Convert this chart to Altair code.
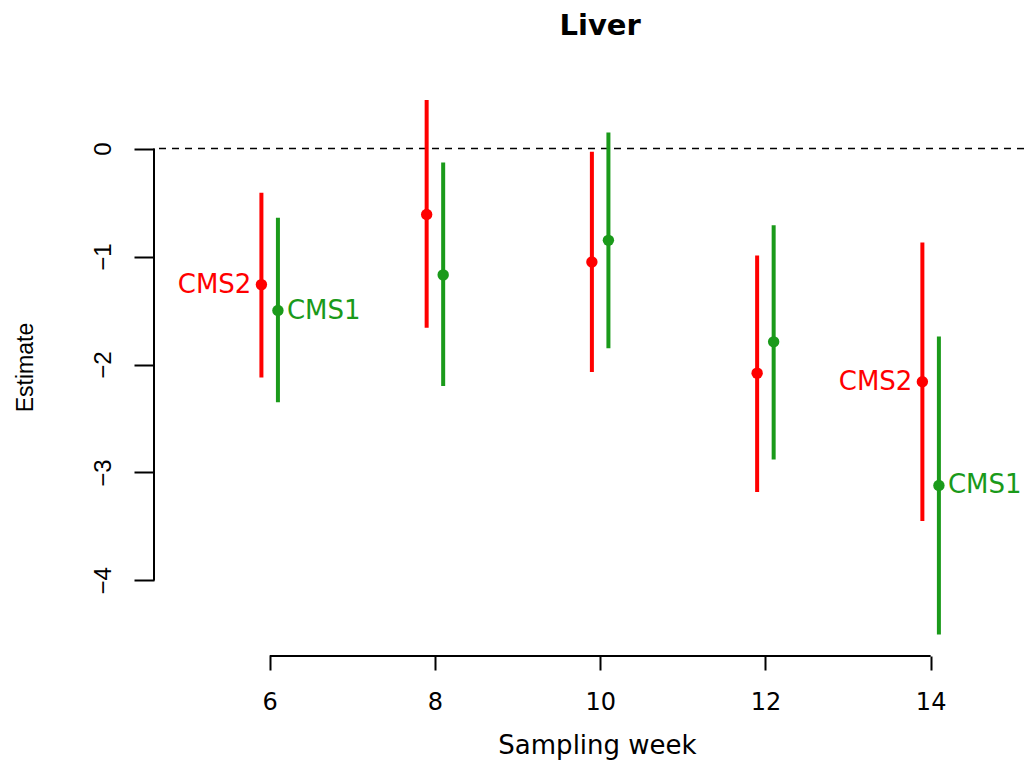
import altair as alt
import pandas as pd

# ---- data ----
weeks = [6, 8, 10, 12, 14]
groups = ["CMS2", "CMS1"]
cms2_est = [-1.26, -0.61, -1.05, -2.08, -2.16]
cms2_lo = [-2.12, -1.66, -2.07, -3.18, -3.45]
cms2_hi = [-0.41, 0.45, -0.03, -0.99, -0.87]
cms1_est = [-1.50, -1.17, -0.85, -1.79, -3.12]
cms1_lo = [-2.35, -2.20, -1.85, -2.88, -4.50]
cms1_hi = [-0.64, -0.13, 0.15, -0.71, -1.74]
label_weeks = [6, 14]
x_ticks = [6, 8, 10, 12, 14]
y_ticks = [-4, -3, -2, -1, 0]
dodge = {"CMS2": -0.1, "CMS1": 0.1}
colors = ["#FF0000", "#1A9A1A"]
title_text = "Liver"
x_center = 10  # centre of the R plot region (xlim 5..15)

rows = []
for i, w in enumerate(weeks):
    rows.append(dict(group="CMS2", week=w, x=w + dodge["CMS2"], est=cms2_est[i], lo=cms2_lo[i], hi=cms2_hi[i]))
    rows.append(dict(group="CMS1", week=w, x=w + dodge["CMS1"], est=cms1_est[i], lo=cms1_lo[i], hi=cms1_hi[i]))
df = pd.DataFrame(rows)
lab = df[df["week"].isin(label_weeks)]

xs = alt.Scale(domain=[4.6, 15.13], nice=False, zero=False)
ys = alt.Scale(domain=[-4.7, 0.7], nice=False, zero=False)
cs = alt.Scale(domain=groups, range=colors)

xaxis = alt.Axis(
    values=x_ticks, domain=False, grid=False, tickSize=14, tickWidth=2, tickColor="black",
    labelFont="DejaVu Sans", labelFontSize=24, labelColor="black", labelPadding=20,
    title="Sampling week", titleFont="DejaVu Sans", titleFontSize=26, titleFontWeight="normal",
    titleColor="black", titleBaseline="alphabetic", titleY=97, titleX=443, titleAnchor="middle",
)
yaxis = alt.Axis(
    values=y_ticks, domain=False, grid=False, tickSize=20, tickWidth=2, tickColor="black",
    labelFont="Liberation Sans", labelFontSize=24, labelColor="black", labelPadding=24,
    labelAngle=270, labelAlign="center", labelBaseline="alphabetic",
    title="Estimate", titleFont="Liberation Sans", titleFontSize=23, titleFontWeight="normal",
    titleColor="black", titleAngle=270, titleBaseline="alphabetic", titleAlign="center",
    titleX=-122, titleY=294,
)

def X(f):
    return alt.X(f, type="quantitative", scale=xs, axis=xaxis)

def Y(f):
    return alt.Y(f, type="quantitative", scale=ys, axis=yaxis)

col = alt.Color("group:N", scale=cs, legend=None)

zero_df = pd.DataFrame({"y": [0]})
zero = alt.Chart(zero_df).mark_rule(color="black", strokeWidth=1.5, strokeDash=[7, 6]).encode(y=Y("y"))

xline_df = pd.DataFrame({"x": [x_ticks[0]], "x2": [x_ticks[-1]], "y": [-4.7]})
xline = alt.Chart(xline_df).mark_rule(color="black", strokeWidth=2).encode(x=X("x"), x2="x2", y=Y("y"))

yline_df = pd.DataFrame({"x": [4.6], "y": [y_ticks[0]], "y2": [y_ticks[-1]]})
yline = alt.Chart(yline_df).mark_rule(color="black", strokeWidth=2).encode(x=X("x"), y=Y("y"), y2="y2")

bars = alt.Chart(df).mark_rule(strokeWidth=4).encode(x=X("x"), y=Y("lo"), y2="hi", color=col)
points = alt.Chart(df).mark_circle(size=130, opacity=1).encode(x=X("x"), y=Y("est"), color=col)

lab2 = alt.Chart(lab[lab["group"] == "CMS2"]).mark_text(
    align="right", baseline="middle", dx=-10, font="DejaVu Sans", fontSize=26
).encode(x=X("x"), y=Y("est"), text="group:N", color=col)
lab1 = alt.Chart(lab[lab["group"] == "CMS1"]).mark_text(
    align="left", baseline="middle", dx=9, font="DejaVu Sans", fontSize=26
).encode(x=X("x"), y=Y("est"), text="group:N", color=col)

title_df = pd.DataFrame({"x": [x_center], "t": [title_text]})
title = alt.Chart(title_df).mark_text(
    align="center", baseline="alphabetic", font="DejaVu Sans", fontSize=29, fontWeight="bold", color="black"
).encode(x=X("x"), y=alt.value(-38), text="t:N")

chart = alt.layer(zero, xline, yline, bars, points, lab2, lab1, title).properties(
    width=870,
    height=583,
    padding={"left": 146, "top": 65, "right": 0, "bottom": 104},
    autosize=alt.AutoSizeParams(type="none"),
).configure(background="white", view=alt.ViewConfig(stroke=None))

chart.save("out.html", embed_options={"renderer": "svg", "actions": False})
